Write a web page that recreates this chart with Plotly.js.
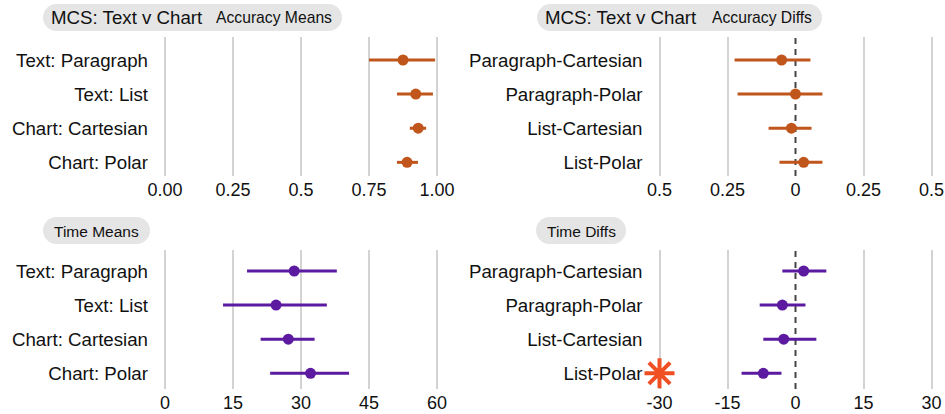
<!DOCTYPE html>
<html>
<head>
<meta charset="utf-8">
<script src="https://cdn.plot.ly/plotly-3.0.1.min.js"></script>
<style>
html,body{margin:0;padding:0;background:#fff;}
#chart{width:945px;height:414px;}
</style>
</head>
<body>
<div id="chart"></div>
<script>
// ---- data ----
var accCats = ['Text: Paragraph', 'Text: List', 'Chart: Cartesian', 'Chart: Polar'];
var accMean = [0.875, 0.922, 0.931, 0.890];
var accLow  = [0.750, 0.853, 0.900, 0.853];
var accHigh = [0.993, 0.985, 0.960, 0.930];

var diffCats = ['Paragraph-Cartesian', 'Paragraph-Polar', 'List-Cartesian', 'List-Polar'];
var accDiffMean = [-0.051, 0.000, -0.015, 0.030];
var accDiffLow  = [-0.224, -0.213, -0.099, -0.059];
var accDiffHigh = [0.055, 0.099, 0.059, 0.099];

var timeMean = [28.5, 24.5, 27.2, 32.1];
var timeLow  = [18.1, 12.8, 21.1, 23.2];
var timeHigh = [37.9, 35.7, 33.0, 40.6];

var timeDiffMean = [1.8, -2.9, -2.6, -7.1];
var timeDiffLow  = [-2.9, -7.9, -7.1, -11.9];
var timeDiffHigh = [6.8, 2.2, 4.6, -3.1];

var flagX = [-30];
var flagRows = ['List-Polar'];

var accTickVals = [0, 0.25, 0.5, 0.75, 1];
var accTickText = ['0.00', '0.25', '0.5', '0.75', '1.00'];
var accDiffTickVals = [-0.5, -0.25, 0, 0.25, 0.5];
var accDiffTickText = ['0.5', '0.25', '0', '0.25', '0.5'];
var accDiffGridVals = [-0.5, -0.25, 0.25, 0.5];
var timeTickVals = [0, 15, 30, 45, 60];
var timeTickText = ['0', '15', '30', '45', '60'];
var timeDiffTickVals = [-30, -15, 0, 15, 30];
var timeDiffTickText = ['-30', '-15', '0', '15', '30'];
var timeDiffGridVals = [-30, -15, 15, 30];

// ---- styling ----
var W = 945, H = 414;
var ORANGE = '#c0561b';
var PURPLE = '#5b1a9f';
var STAR = '#f04e23';
var FONT = 'Liberation Sans, Arial, Helvetica, sans-serif';
var GRID = '#d3d3d3';

function sub(a, b) { return a.map(function (v, i) { return v - b[i]; }); }

function ciTrace(x, y, lo, hi, color, xa, ya) {
  return {
    type: 'scatter', mode: 'markers', x: x, y: y, xaxis: xa, yaxis: ya,
    marker: { color: color, size: 11 },
    error_x: { type: 'data', symmetric: false, array: sub(hi, x), arrayminus: sub(x, lo),
      color: color, thickness: 3, width: 0 },
    hoverinfo: 'x+y', showlegend: false, cliponaxis: false
  };
}

var traces = [
  { type: 'scatter', mode: 'markers', x: [], y: [], xaxis: 'x5', yaxis: 'y2', showlegend: false },
  { type: 'scatter', mode: 'markers', x: [], y: [], xaxis: 'x6', yaxis: 'y4', showlegend: false },
  ciTrace(accMean, accCats, accLow, accHigh, ORANGE, 'x', 'y'),
  ciTrace(accDiffMean, diffCats, accDiffLow, accDiffHigh, ORANGE, 'x2', 'y2'),
  ciTrace(timeMean, accCats, timeLow, timeHigh, PURPLE, 'x3', 'y3'),
  ciTrace(timeDiffMean, diffCats, timeDiffLow, timeDiffHigh, PURPLE, 'x4', 'y4'),
  { type: 'scatter', mode: 'markers', x: flagX, y: flagRows, xaxis: 'x4', yaxis: 'y4',
    marker: { symbol: 'asterisk-open', size: 25, color: STAR, line: { color: STAR, width: 4 } },
    showlegend: false, cliponaxis: false, hoverinfo: 'skip' }
];

function px(x) { return x / W; }
function py(y) { return 1 - y / H; }

function xAxis(domPx, range, tv, tt, anchor, grid) {
  return {
    domain: [px(domPx[0]), px(domPx[1])], range: range, anchor: anchor,
    tickmode: 'array', tickvals: tv, ticktext: tt,
    showgrid: grid, gridcolor: GRID, gridwidth: 2,
    zeroline: false, showline: false, ticks: '',
    tickfont: { family: FONT, size: 18, color: '#111' },
    ticklabelstandoff: 1, fixedrange: true
  };
}
function gridAxis(domPx, range, tv, anchor, over) {
  return {
    domain: [px(domPx[0]), px(domPx[1])], range: range, anchor: anchor, overlaying: over,
    tickmode: 'array', tickvals: tv, showticklabels: false,
    showgrid: true, gridcolor: GRID, gridwidth: 2,
    zeroline: false, showline: false, ticks: '', fixedrange: true
  };
}
function yAxis(domPx, range, anchor) {
  return {
    domain: [py(domPx[1]), py(domPx[0])], range: range, anchor: anchor, type: 'category',
    showgrid: false, zeroline: false, showline: false, ticks: '',
    tickfont: { family: FONT, size: 18.7, color: '#111' },
    ticklabelstandoff: 14, fixedrange: true
  };
}

var accPad = 2 / 272, timePad = 2 * 60 / 272;

function pillPath(x0, x1, y0, y1) {
  var r = (y1 - y0) / 2, k = 0.5523 * r;
  var pts = [
    'M', px(x0 + r), py(y0),
    'L', px(x1 - r), py(y0),
    'C', px(x1 - r + k), py(y0), px(x1), py(y0 + r - k), px(x1), py(y0 + r),
    'C', px(x1), py(y0 + r + k), px(x1 - r + k), py(y1), px(x1 - r), py(y1),
    'L', px(x0 + r), py(y1),
    'C', px(x0 + r - k), py(y1), px(x0), py(y0 + r + k), px(x0), py(y0 + r),
    'C', px(x0), py(y0 + r - k), px(x0 + r - k), py(y0), px(x0 + r), py(y0),
    'Z'
  ];
  var s = '';
  for (var i = 0; i < pts.length; i++) {
    s += (typeof pts[i] === 'number' ? pts[i].toFixed(5) : pts[i]) + ' ';
  }
  return { type: 'path', xref: 'paper', yref: 'paper', path: s,
    fillcolor: '#e5e5e5', line: { width: 0 }, layer: 'below' };
}

function label(text, x, y, size) {
  return { text: text, xref: 'paper', yref: 'paper', x: px(x), y: py(y),
    xanchor: 'left', yanchor: 'middle', showarrow: false,
    font: { family: FONT, size: size, color: '#111' } };
}

function zeroLine(xa, ya) {
  return { type: 'line', xref: xa, yref: ya + ' domain', x0: 0, x1: 0, y0: 0, y1: 1,
    line: { color: '#444', width: 2, dash: '6px,5px' }, layer: 'below' };
}

var leftDom = [163, 439], rightDom = [657.5, 933.5];
var topDom = [37, 176], botDom = [250, 389];

var layout = {
  width: W, height: H,
  margin: { l: 0, r: 0, t: 0, b: 0 },
  paper_bgcolor: '#fff', plot_bgcolor: 'rgba(0,0,0,0)',
  showlegend: false,
  xaxis:  xAxis(leftDom, [-accPad, 1 + accPad], accTickVals, accTickText, 'y', true),
  yaxis:  yAxis(topDom, [3.40, -0.674], 'x'),
  xaxis2: xAxis(rightDom, [-0.5 - accPad, 0.5 + accPad], accDiffTickVals, accDiffTickText, 'y2', false),
  yaxis2: yAxis(topDom, [3.40, -0.674], 'x2'),
  xaxis3: xAxis(leftDom, [-timePad, 60 + timePad], timeTickVals, timeTickText, 'y3', true),
  yaxis3: yAxis(botDom, [3.46, -0.616], 'x3'),
  xaxis4: xAxis(rightDom, [-30 - timePad, 30 + timePad], timeDiffTickVals, timeDiffTickText, 'y4', false),
  yaxis4: yAxis(botDom, [3.46, -0.616], 'x4'),
  xaxis5: gridAxis(rightDom, [-0.5 - accPad, 0.5 + accPad], accDiffGridVals, 'y2', 'x2'),
  xaxis6: gridAxis(rightDom, [-30 - timePad, 30 + timePad], timeDiffGridVals, 'y4', 'x4'),
  shapes: [
    pillPath(43, 342, 4, 31),
    pillPath(537, 822, 4, 31),
    pillPath(43, 150, 217, 244),
    pillPath(536, 626, 217, 244),
    zeroLine('x2', 'y2'),
    zeroLine('x4', 'y4')
  ],
  annotations: [
    label('MCS: Text v Chart', 49, 17.5, 18.7),
    label('Accuracy Means', 214, 18, 15.7),
    label('MCS: Text v Chart', 543, 17.5, 18.7),
    label('Accuracy Diffs', 710, 18, 15.7),
    label('Time Means', 52, 231, 15.5),
    label('Time Diffs', 545, 231, 15.5)
  ]
};

Plotly.newPlot('chart', traces, layout, { displayModeBar: false, staticPlot: true });
</script>
</body>
</html>
